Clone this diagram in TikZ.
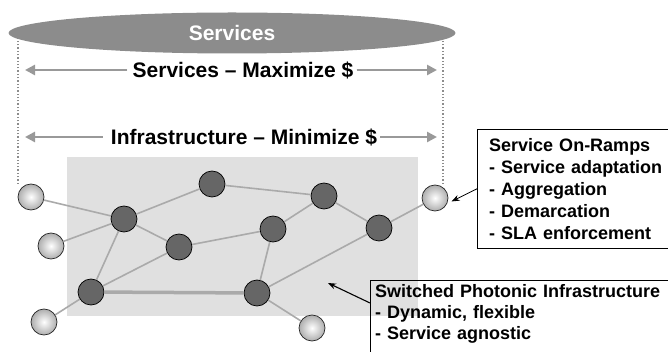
\documentclass[tikz,border=0pt]{standalone}
\usepackage{fontspec}
\setmainfont{Liberation Sans}
\usetikzlibrary{arrows.meta,positioning,shapes.geometric}
\definecolor{clCore}{HTML}{666666}
\definecolor{clLink}{HTML}{AAAAAA}
\definecolor{clCloud}{HTML}{8C8C8C}
\definecolor{clPlane}{HTML}{E0E0E0}
\definecolor{clSpan}{HTML}{999999}
\tikzset{
  core/.style={circle, draw=black, fill=clCore, minimum size=26pt, inner sep=0pt, line width=0.7pt},
  ramp/.style={circle, draw=black!85, inner color=white, outer color=black!32,
               minimum size=26pt, inner sep=0pt, line width=0.7pt},
  link/.style={draw=clLink, line width=1.6pt},
  trunk/.style={draw=clLink, line width=3.5pt},
  span/.style={-{Triangle[length=10pt,width=10pt]}, draw=clSpan, fill=clSpan, line width=2.6pt},
  spanlabel/.style={font=\fontsize{21}{25}\selectfont\bfseries, inner sep=0pt},
  note/.style={rectangle, align=left, anchor=north west,
               font=\fontsize{18}{22}\selectfont\bfseries, text width=300pt},
  frame/.style={draw=black, line width=0.8pt},
  pointer/.style={-{Stealth[length=8pt,width=6pt]}, draw=black, line width=0.8pt},
  reach/.style={draw=black!45, dotted, line width=1.3pt},
}

\begin{document}
\begin{tikzpicture}[x=1pt, y=-1pt]
  \useasboundingbox (0,0) rectangle (668,352);
  \clip (0,0) rectangle (668,352);
  % reach of the services layer
  \coordinate (reachL) at (18,184);
  \coordinate (reachR) at (443,184);
  \draw[reach] (reachL) -- (18,33);
  \draw[reach] (reachR) -- (443,33);
  \node[ellipse, fill=clCloud, minimum width=447pt, minimum height=41pt, inner sep=0pt,
        text=white, font=\fontsize{21}{25}\selectfont\bfseries] (cloud) at (232,33) {Services};

  % cost arrows
  \node[spanlabel] (maxi) at (243,70) {Services – Maximize \$};
  \coordinate (maxiL) at (25,70);
  \coordinate (maxiR) at (437,70);
  \draw[span, shorten <=5pt] (maxi.west) -- (maxiL);
  \draw[span, shorten <=3pt] (maxi.east) -- (maxiR);
  \node[spanlabel] (mini) at (244,137) {Infrastructure – Minimize \$};
  \coordinate (miniL) at (25,137);
  \coordinate (miniR) at (437,137);
  \draw[span, shorten <=8pt] (mini.west) -- (miniL);
  \draw[span, shorten <=3pt] (mini.east) -- (miniR);

  % photonic plane
  \node[fill=clPlane, minimum width=351pt, minimum height=159pt, inner sep=0pt,
        anchor=north west] (plane) at (67,157) {};

  % switches
  \node[core] (d1) at (124,219) {};
  \node[core] (d2) at (212,184) {};
  \node[core] (d3) at (179,247) {};
  \node[core] (d4) at (91,292) {};
  \node[core] (d5) at (273,229) {};
  \node[core] (d6) at (324,196) {};
  \node[core] (d7) at (379,228) {};
  \node[core] (d8) at (257,293) {};
  % on-ramps
  \node[ramp] (l1) at (31,197) {};
  \node[ramp] (l2) at (51,246) {};
  \node[ramp] (l3) at (44,322) {};
  \node[ramp] (l4) at (312,328) {};
  \node[ramp] (l5) at (435,198) {};

  \foreach \a/\b in {l1/d1, l2/d1, d1/d2, d1/d3, d1/d4, d2/d6, d3/d5, d3/d4,
                     d5/d6, d5/d8, d6/d7, d7/l5, d7/d8, d4/l3, d8/l4}
    \draw[link] (\a) -- (\b);
  \draw[trunk] (d4) -- (d8);

  % callouts
  \node[note, inner xsep=12pt, inner ysep=9pt] (ramps) at (477,129)
    {Service On-Ramps\\- Service adaptation\\- Aggregation\\- Demarcation\\- SLA enforcement};
  \draw[frame] (ramps.north east) -- (ramps.north west) -- (ramps.south west) -- (ramps.south east);
  \draw[pointer, shorten >=5pt] (ramps.west) -- (l5.-25);

  \node[note, inner xsep=5pt, inner ysep=4.5pt, text depth=90pt,
        font=\fontsize{18}{21}\selectfont\bfseries] (photonic) at (370,280)
    {Switched Photonic Infrastructure\\- Dynamic, flexible\\- Service agnostic};
  \draw[frame] (photonic.north east) -- (photonic.north west) -- (photonic.south west);
  \coordinate (pcore) at (328,283);
  \draw[pointer, line width=1.1pt] ([yshift=-23pt]photonic.north west) -- (pcore);
\end{tikzpicture}
\end{document}
